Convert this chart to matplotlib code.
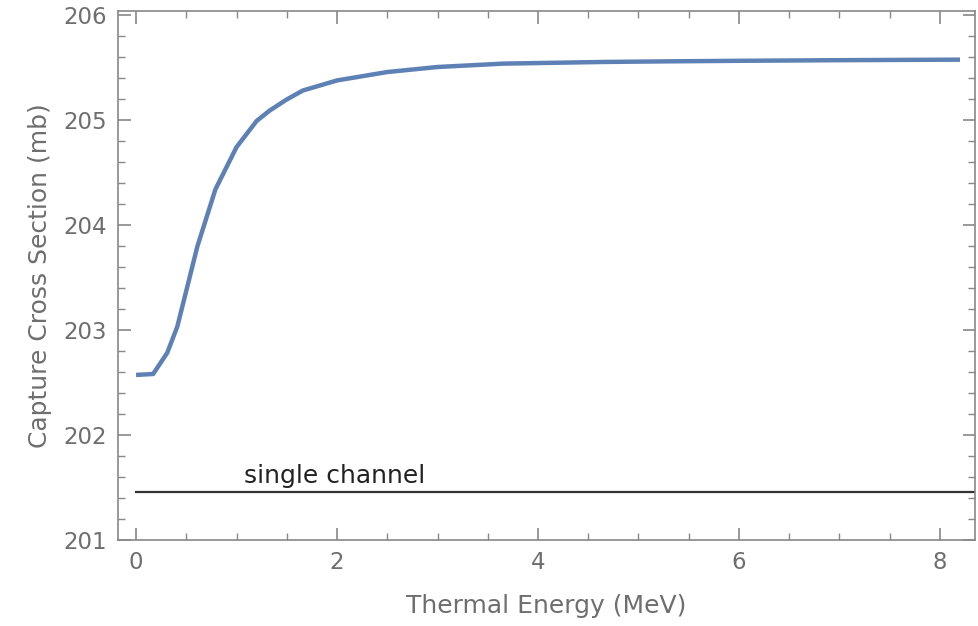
import matplotlib
matplotlib.use("Agg")
import matplotlib.pyplot as plt
from matplotlib.ticker import MultipleLocator

# Capture cross section vs thermal energy
energy = [0.0, 0.17, 0.31, 0.41, 0.51, 0.61, 0.79, 1.00, 1.20, 1.33,
          1.50, 1.66, 2.00, 2.50, 3.00, 3.65, 4.65, 5.31, 6.00, 7.00, 8.20]
cross_section = [202.575, 202.584, 202.785, 203.034, 203.416, 203.799,
                 204.344, 204.746, 204.995, 205.094, 205.200, 205.285,
                 205.381, 205.461, 205.509, 205.541, 205.557, 205.563,
                 205.568, 205.574, 205.579]

single_channel = 201.457
single_x = [0.0, 8.5]

frame_color = "#888888"
text_color = "#6e6e6e"

fig, ax = plt.subplots(figsize=(9.79, 6.26), dpi=100)
fig.subplots_adjust(left=0.1205, right=0.996, top=0.982, bottom=0.137)

ax.plot(energy, cross_section, color="#5E81B5", lw=3.2,
        solid_capstyle="butt", solid_joinstyle="round")
ax.plot(single_x, [single_channel] * 2, color="#333333", lw=1.6)
ax.text(1.98, single_channel + 0.04, "single channel", ha="center", va="bottom",
        fontsize=18, color="#222222")

ax.set_xlim(-0.18, 8.35)
ax.set_ylim(201, 206.04)

ax.xaxis.set_major_locator(MultipleLocator(2))
ax.xaxis.set_minor_locator(MultipleLocator(0.5))
ax.yaxis.set_major_locator(MultipleLocator(1))
ax.yaxis.set_minor_locator(MultipleLocator(0.2))

ax.tick_params(which="both", direction="in", top=True, right=True,
               color=frame_color, labelcolor=text_color, labelsize=16.5, pad=8)
ax.tick_params(which="major", length=9, width=1.2)
ax.tick_params(which="minor", length=5, width=1.0)
for s in ax.spines.values():
    s.set_color(frame_color)
    s.set_linewidth(1.2)

ax.set_xlabel("Thermal Energy (MeV)", fontsize=18, color=text_color, labelpad=14)
ax.set_ylabel("Capture Cross Section (mb)", fontsize=18, color=text_color, labelpad=8)

fig.savefig("out.png", dpi=100)
